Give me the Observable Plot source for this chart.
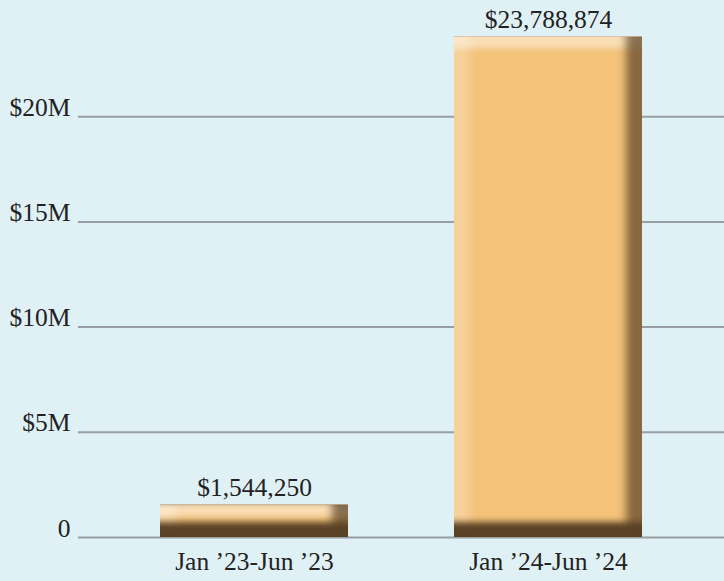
<!DOCTYPE html>
<html>
<head>
<meta charset="utf-8">
<script src="https://cdn.jsdelivr.net/npm/d3@7"></script>
<script src="https://cdn.jsdelivr.net/npm/@observablehq/plot@0.6"></script>
<style>
  html, body { margin: 0; padding: 0; background: #e0f1f6; }
  #chart svg { display: block; }
</style>
</head>
<body>
<div id="chart"></div>
<script>
const periods = ["Jan ’23-Jun ’23", "Jan ’24-Jun ’24"];
const amounts = [1544250, 23788874];
const yTicks = [0, 5e6, 10e6, 15e6, 20e6];
const yTickLabels = ["0", "$5M", "$10M", "$15M", "$20M"];

const data = periods.map((p, i) => ({period: p, amount: amounts[i]}));
const fmt = d3.format("$,");

const chart = Plot.plot({
  width: 724,
  height: 581,
  marginLeft: 78,
  marginRight: 0,
  marginTop: 11,
  marginBottom: 44,
  style: {background: "#e0f1f6", fontFamily: "'Liberation Serif', 'DejaVu Serif', serif", fontSize: "25.5px", color: "#222", overflow: "visible"},
  x: {domain: periods, paddingInner: 0.36, paddingOuter: 0.275, label: null},
  y: {domain: [0, 25e6], label: null},
  marks: [
    Plot.gridY(yTicks, {stroke: "#989ea2", strokeOpacity: 1, strokeWidth: 2}),
    Plot.axisY(yTicks, {tickSize: 0, tickPadding: 8, dy: -9, fontSize: 25.5, fill: "#222",
      tickFormat: d => yTickLabels[yTicks.indexOf(d)], label: null}),
    Plot.axisX({tickSize: 0, tickPadding: 14, fontSize: 25.5, fill: "#222", label: null}),
    Plot.barY(data, {x: "period", y: "amount", fill: "#f4c278"}),
    Plot.text(data, {x: "period", y: "amount", text: d => fmt(d.amount), dy: -17, fontSize: 25.5, fill: "#222"})
  ]
});

const svg = d3.select(chart);
svg.insert("defs", ":first-child").html(`
<filter id="bevel" x="-5%" y="-5%" width="110%" height="110%" color-interpolation-filters="sRGB">
  <feOffset in="SourceAlpha" dx="16" dy="0" result="oL"/>
  <feGaussianBlur in="oL" stdDeviation="4 0" result="bL"/>
  <feComposite in="SourceAlpha" in2="bL" operator="out" result="mL"/>
  <feFlood flood-color="#ffffff" flood-opacity="0.25"/>
  <feComposite in2="mL" operator="in" result="hL"/>

  <feOffset in="SourceAlpha" dx="0" dy="12" result="oT"/>
  <feGaussianBlur in="oT" stdDeviation="0 3" result="bT"/>
  <feComposite in="SourceAlpha" in2="bT" operator="out" result="mT"/>
  <feFlood flood-color="#ffffff" flood-opacity="0.45"/>
  <feComposite in2="mT" operator="in" result="hT"/>

  <feOffset in="SourceAlpha" dx="-16" dy="0" result="oR"/>
  <feGaussianBlur in="oR" stdDeviation="4 0" result="bR"/>
  <feComposite in="SourceAlpha" in2="bR" operator="out" result="mR"/>
  <feFlood flood-color="#5a4226" flood-opacity="0.7"/>
  <feComposite in2="mR" operator="in" result="sR"/>

  <feOffset in="SourceAlpha" dx="0" dy="-15" result="oB"/>
  <feGaussianBlur in="oB" stdDeviation="0 3" result="bB"/>
  <feComposite in="SourceAlpha" in2="bB" operator="out" result="mB"/>
  <feFlood flood-color="#5a4226" flood-opacity="1"/>
  <feComposite in2="mB" operator="in" result="sB"/>

  <feMerge>
    <feMergeNode in="SourceGraphic"/>
    <feMergeNode in="hL"/>
    <feMergeNode in="hT"/>
    <feMergeNode in="sR"/>
    <feMergeNode in="sB"/>
  </feMerge>
</filter>`);
svg.selectAll('g[aria-label="bar"] rect').attr("filter", "url(#bevel)");

document.getElementById("chart").appendChild(chart);
</script>
</body>
</html>
